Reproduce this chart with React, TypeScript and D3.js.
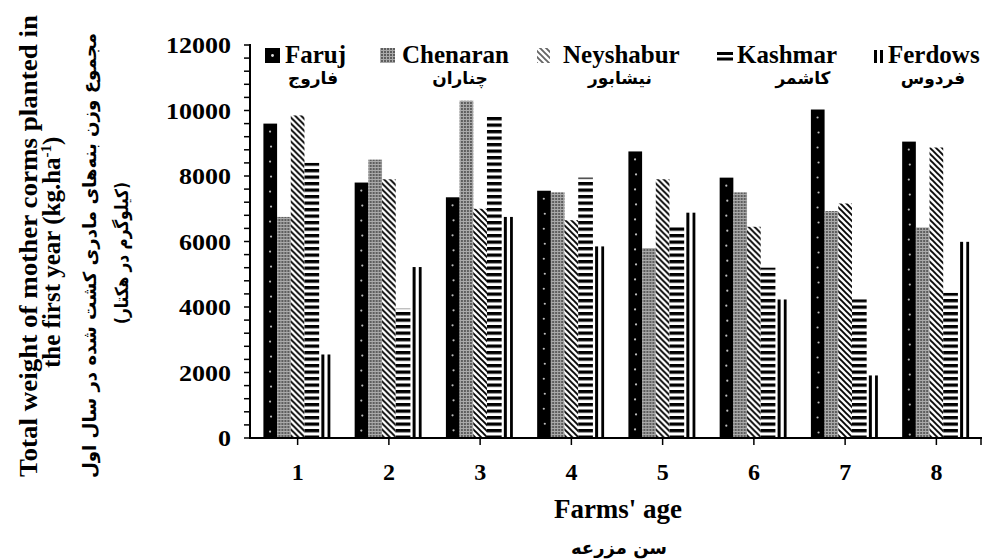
import React from "react";
import * as d3 from "d3";

const ages = ["1", "2", "3", "4", "5", "6", "7", "8"];
const seriesNames = ["Faruj", "Chenaran", "Neyshabur", "Kashmar", "Ferdows"];
const seriesPersian = ["فاروج", "چناران", "نیشابور", "کاشمر", "فردوس"];
const faruj = [9600, 7800, 7350, 7550, 8750, 7950, 10030, 9050];
const chenaran = [6750, 8500, 10300, 7500, 5800, 7500, 6930, 6430];
const neyshabur = [9850, 7900, 7000, 6650, 7900, 6450, 7160, 8870];
const kashmar = [8400, 3950, 9850, 7950, 6450, 5200, 4230, 4430];
const ferdows = [2550, 5220, 6750, 5850, 6880, 4230, 1910, 5990];
const yTicks = [0, 2000, 4000, 6000, 8000, 10000, 12000];

const yTitleEn = ["Total weight of mother corms planted in", "the first year (kg.ha"];
const yTitleFa = ["مجموع وزن بنه‌های مادری کشت شده در سال اول", "(کیلوگرم در هکتار)"];
const xTitleEn = "Farms' age";
const xTitleFa = "سن مزرعه";

const W = 992, H = 559;
const serif = "'Liberation Serif', 'Times New Roman', serif";
const fa = "'DejaVu Sans', sans-serif";

export default function App() {
  const values = [faruj, chenaran, neyshabur, kashmar, ferdows];
  const x0 = d3.scaleBand<string>().domain(ages).range([252, 982]).paddingInner(0.25).paddingOuter(0.125);
  const x1 = d3.scaleBand<string>().domain(seriesNames).range([0, x0.bandwidth()]);
  const y = d3.scaleLinear().domain([0, 12000]).range([438, 45]);
  const minor = d3.range(0, 12001, 400);
  const bw = x1.bandwidth();
  const fills = ["#000", "url(#pChen)", "url(#pNey)", "url(#pKash)", "#fff"];

  const legendIconX = [265, 380, 537, 717, 874];
  const legendTextX = [285, 402, 563, 737, 888];
  const legendFaX = [313, 460, 620, 803, 933];

  const renderIcon = (i: number, ix: number) => {
    const top = 48, s = 15;
    if (i === 0)
      return (
        <g>
          <rect x={ix} y={top} width={s} height={s} fill="#000" />
          <circle cx={ix + s / 2} cy={top + s / 2} r={1.4} fill="#ddd" />
        </g>
      );
    if (i === 1) return <rect x={ix} y={top} width={s} height={s} fill="url(#pChen)" />;
    if (i === 2) return <rect x={ix} y={top} width={13} height={s} fill="url(#pNey)" opacity={0.6} />;
    if (i === 3)
      return (
        <g>
          <rect x={ix} y={top + 4} width={16} height={3} fill="#000" />
          <rect x={ix} y={top + 9.5} width={16} height={3} fill="#000" />
        </g>
      );
    return (
      <g>
        <rect x={ix} y={top + 2} width={3} height={13} fill="#000" />
        <rect x={ix + 6} y={top + 2} width={3} height={13} fill="#000" />
      </g>
    );
  };

  return (
    <svg width={W} height={H} style={{ position: "absolute", left: 0, top: 0, background: "#fff" }}>
      <defs>
        <pattern id="pChen" patternUnits="userSpaceOnUse" width={3} height={3}>
          <rect width={3} height={3} fill="#aaa" />
          <rect width={2} height={2} fill="#5e5e5e" />
        </pattern>
        <pattern id="pNey" patternUnits="userSpaceOnUse" width={6} height={6}>
          <rect width={6} height={6} fill="#fff" />
          <path d="M-1,-1 L7,7 M-1,5 L1,7 M5,-1 L7,1" stroke="#000" strokeWidth={1.9} />
        </pattern>
        <pattern id="pKash" patternUnits="userSpaceOnUse" width={10} height={6.5}>
          <rect width={10} height={6.5} fill="#fff" />
          <rect width={10} height={3.3} fill="#000" />
        </pattern>
      </defs>

      {/* bars */}
      {ages.map((a, ai) => (
        <g key={a} transform={`translate(${x0(a)},0)`}>
          {seriesNames.map((s, si) => {
            const v = values[si][ai];
            const bx = x1(s)!;
            const by = y(v);
            const bh = y(0) - by;
            if (si === 4) {
              return (
                <g key={s}>
                  <rect x={bx + 3.2} y={by} width={3} height={bh} fill="#000" />
                  <rect x={bx + 9.4} y={by} width={2.8} height={bh} fill="#000" />
                </g>
              );
            }
            return (
              <g key={s}>
                <rect x={bx} y={by} width={si === 3 ? bw + 1 : bw} height={bh} fill={fills[si]} />
                {si === 0 &&
                  d3.range(by + 8, y(0) - 3, 15).map((cy, k) => (
                    <circle key={k} cx={bx + bw / 2 + (k % 2 ? 0.8 : -0.2)} cy={cy} r={1.1} fill="#bbb" />
                  ))}
              </g>
            );
          })}
        </g>
      ))}

      {/* y axis */}
      <line x1={250} x2={250} y1={44} y2={439} stroke="#000" strokeWidth={2} />
      {minor.map((t) => (
        <line key={t} x1={244} x2={250} y1={y(t)} y2={y(t)} stroke="#000" strokeWidth={1.5} />
      ))}
      {yTicks.map((t) => {
        const label = String(t);
        return (
          <text key={t} x={231} y={y(t)} dy="0.35em" textAnchor="end" fontFamily={serif} fontWeight="bold" fontSize={24}
            textLength={label.length * 13} lengthAdjust="spacingAndGlyphs">
            {label}
          </text>
        );
      })}

      {/* x axis */}
      <line x1={249} x2={982} y1={438} y2={438} stroke="#000" strokeWidth={2} />
      {ages.map((a) => (
        <line key={a} x1={x0(a)! + x0.bandwidth() / 2} x2={x0(a)! + x0.bandwidth() / 2} y1={438} y2={445} stroke="#000" strokeWidth={1.5} />
      ))}
      <line x1={981} x2={981} y1={438} y2={445} stroke="#000" strokeWidth={1.5} />
      {ages.map((a) => (
        <text key={a} x={x0(a)! + x0.bandwidth() / 2} y={480} textAnchor="middle" fontFamily={serif} fontWeight="bold" fontSize={24}>
          {a}
        </text>
      ))}
      <text x={618} y={518} textAnchor="middle" fontFamily={serif} fontWeight="bold" fontSize={27}>
        {xTitleEn}
      </text>
      <text x={619} y={554} textAnchor="middle" fontFamily={fa} fontWeight="bold" fontSize={18}>
        {xTitleFa}
      </text>

      {/* y title */}
      <g transform="translate(37,477) rotate(-90)">
        <text x={0} y={0} fontFamily={serif} fontWeight="bold" fontSize={25} textLength={462} lengthAdjust="spacingAndGlyphs">
          {yTitleEn[0]}
        </text>
      </g>
      <g transform="translate(60,368) rotate(-90)">
        <text x={0} y={0} fontFamily={serif} fontWeight="bold" fontSize={25}>
          {yTitleEn[1]}
          <tspan fontSize={15} dy={-9}>-1</tspan>
          <tspan dy={9}>)</tspan>
        </text>
      </g>
      <g transform="translate(96,478) rotate(-90)">
        <text x={0} y={0} fontFamily={fa} fontWeight="bold" fontSize={18} textLength={445} lengthAdjust="spacingAndGlyphs">
          {yTitleFa[0]}
        </text>
      </g>
      <g transform="translate(128,324) rotate(-90)">
        <text x={0} y={0} fontFamily={fa} fontWeight="bold" fontSize={18} textLength={142} lengthAdjust="spacingAndGlyphs">
          {yTitleFa[1]}
        </text>
      </g>

      {/* legend */}
      {seriesNames.map((s, i) => (
        <g key={s}>
          {renderIcon(i, legendIconX[i])}
          <text x={legendTextX[i]} y={63} fontFamily={serif} fontWeight="bold" fontSize={25}>
            {s}
          </text>
          <text x={legendFaX[i]} y={84} textAnchor="middle" fontFamily={fa} fontWeight="bold" fontSize={17}>
            {seriesPersian[i]}
          </text>
        </g>
      ))}
    </svg>
  );
}
